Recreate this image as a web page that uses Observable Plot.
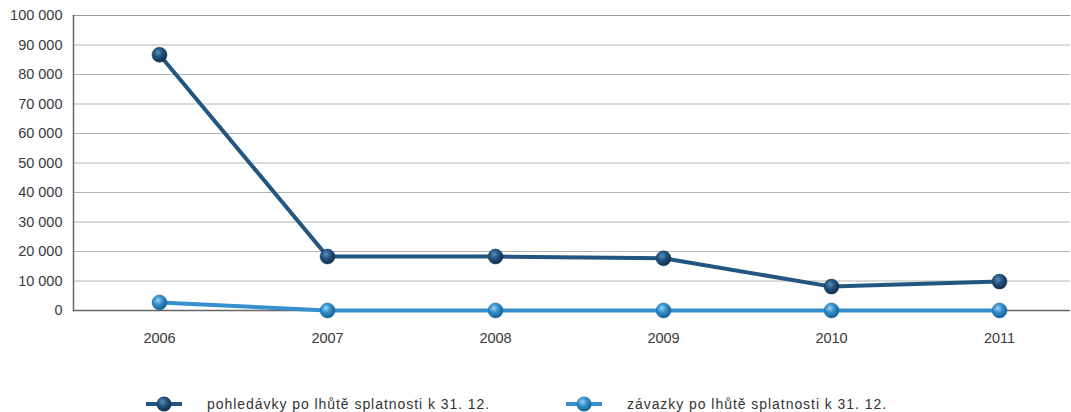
<!DOCTYPE html>
<html>
<head>
<meta charset="utf-8">
<script src="https://cdn.jsdelivr.net/npm/d3@7"></script>
<script src="https://cdn.jsdelivr.net/npm/@observablehq/plot@0.6"></script>
<style>
  body { margin: 0; background: #fff; font-family: "Liberation Sans", Arial, sans-serif; }
  #legend { height: 30px; font-size: 14px; letter-spacing: 0.95px; color: #333; position: relative; margin-top: 39px; }
  .item { position: absolute; top: 0; height: 30px; display: flex; align-items: center; }
  .item svg { margin-right: 24px; }
</style>
</head>
<body>
<svg width="0" height="0" style="position:absolute">
  <defs>
    <radialGradient id="gDark" cx="40%" cy="35%" r="65%">
      <stop offset="0%" stop-color="#5a8fbd"/>
      <stop offset="45%" stop-color="#24557f"/>
      <stop offset="100%" stop-color="#0f2e4a"/>
    </radialGradient>
    <radialGradient id="gLight" cx="40%" cy="35%" r="65%">
      <stop offset="0%" stop-color="#9fd0f2"/>
      <stop offset="45%" stop-color="#3490cf"/>
      <stop offset="100%" stop-color="#1a5f91"/>
    </radialGradient>
  </defs>
</svg>
<div id="chart"></div>
<div id="legend"></div>
<script>
const years = ["2006", "2007", "2008", "2009", "2010", "2011"];
const pohledavky = [86700, 18300, 18300, 17700, 8100, 9800];
const zavazky = [2700, 0, 0, 0, 0, 0];
const yTicks = [0, 10000, 20000, 30000, 40000, 50000, 60000, 70000, 80000, 90000, 100000];
const seriesNames = ["pohledávky po lhůtě splatnosti k 31. 12.", "závazky po lhůtě splatnosti k 31. 12."];
const seriesColors = ["#22557f", "#3490cf"];
const seriesFills = ["url(#gDark)", "url(#gLight)"];

const rows = [];
years.forEach((y, i) => {
  rows.push({year: y, value: pohledavky[i], s: 0});
  rows.push({year: y, value: zavazky[i], s: 1});
});
const fmt = d => d3.format(",")(d).replace(/,/g, " ");

const plot = Plot.plot({
  width: 1071,
  height: 350,
  marginTop: 15,
  marginBottom: 40,
  marginLeft: 73,
  marginRight: 1,
  style: {fontFamily: "'Liberation Sans', Arial, sans-serif", fontSize: "14.5px", color: "#3a3a3a"},
  x: {domain: years, type: "point", padding: 0, range: [158, 1000], label: null},
  y: {domain: [0, 100000], ticks: yTicks, label: null, tickFormat: fmt},
  marks: [
    Plot.ruleY(yTicks.filter(d => d > 0 && d < 100000), {stroke: "#b4b4b4", strokeWidth: 1, strokeOpacity: 1}),
    Plot.ruleY([100000], {stroke: "#999", strokeWidth: 1}),
    Plot.axisY({ticks: yTicks, tickSize: 0, tickPadding: 11, tickFormat: fmt, fontSize: 14.5}),
    Plot.axisX({tickSize: 0, tickPadding: 22, fontSize: 14.5}),
    Plot.frame({anchor: "left", stroke: "#666", strokeWidth: 1.5}),
    Plot.ruleY([0], {stroke: "#666", strokeWidth: 1.5}),
    Plot.line(rows.filter(d => d.s === 1), {x: "year", y: "value", stroke: seriesColors[1], strokeWidth: 4}),
    Plot.line(rows.filter(d => d.s === 0), {x: "year", y: "value", stroke: seriesColors[0], strokeWidth: 4}),
    Plot.dot(rows.filter(d => d.s === 1), {x: "year", y: "value", r: 7.5, fill: seriesFills[1], stroke: "#1a6aa3", strokeWidth: 0.5}),
    Plot.dot(rows.filter(d => d.s === 0), {x: "year", y: "value", r: 7.5, fill: seriesFills[0], stroke: "#163d60", strokeWidth: 0.5})
  ]
});
document.getElementById("chart").appendChild(plot);

const legend = document.getElementById("legend");
const lx = [145, 565];
seriesNames.forEach((n, i) => {
  const it = document.createElement("div");
  it.className = "item";
  it.style.left = lx[i] + "px";
  it.innerHTML = `<svg width="38" height="18"><line x1="1" x2="37" y1="9" y2="9" stroke="${seriesColors[i]}" stroke-width="4"/><circle cx="19" cy="9" r="7.5" fill="${seriesFills[i]}"/></svg><span>${n}</span>`;
  legend.appendChild(it);
});
</script>
</body>
</html>
